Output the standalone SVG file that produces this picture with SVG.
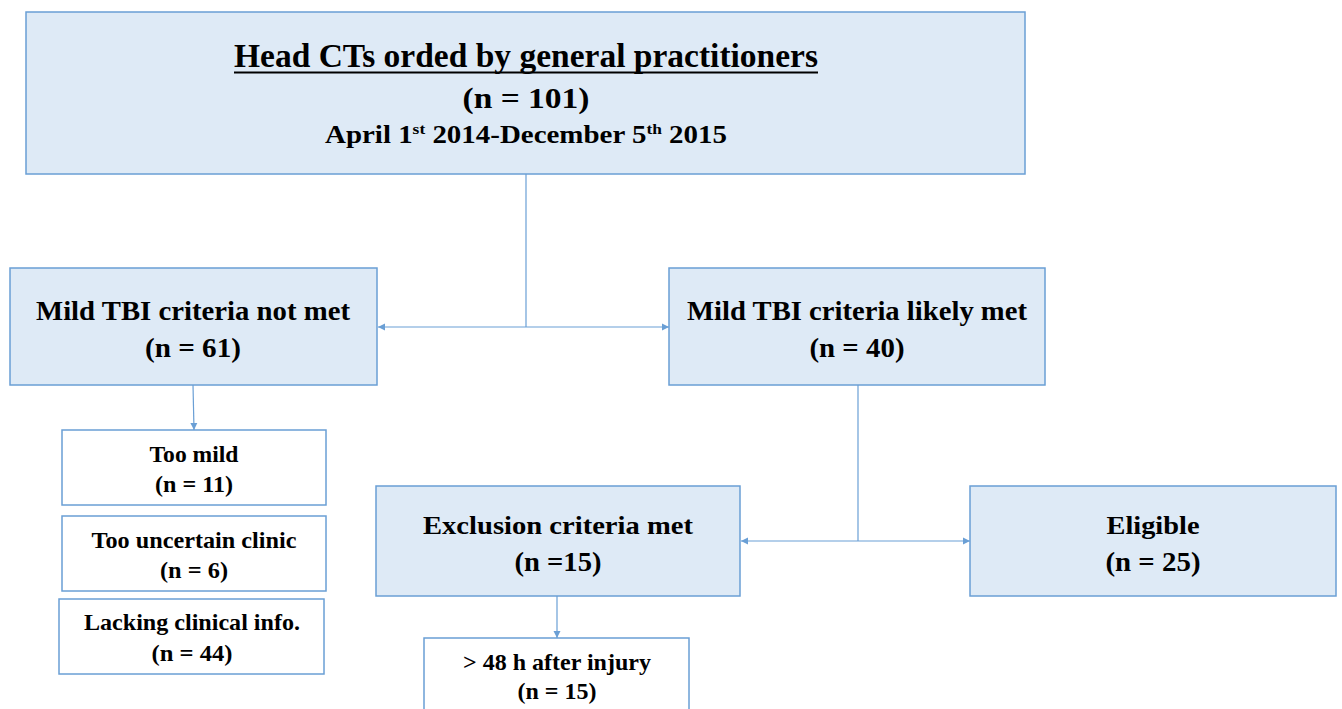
<svg xmlns="http://www.w3.org/2000/svg" width="1342" height="709" viewBox="0 0 1342 709">
<style>
.box{fill:#DEEAF6;stroke:#6A9FD5;stroke-width:1.5}
.wbox{fill:#FFFFFF;stroke:#6A9FD5;stroke-width:1.5}
.t{font-family:"Liberation Serif","Times New Roman",serif;font-weight:bold;fill:#000;text-anchor:middle}
.conn{stroke:#6A9FD5;stroke-width:1.2;fill:none}
</style>
<defs>
<marker id="ah" markerWidth="8" markerHeight="8" refX="7" refY="4" orient="auto" markerUnits="userSpaceOnUse">
<path d="M0,0.5 L7,4 L0,7.5 Z" fill="#6A9FD5"/>
</marker>
</defs>
<rect width="1342" height="709" fill="#FFFFFF"/>
<g id="connectors">
<line class="conn" x1="526" y1="174" x2="526" y2="327"/>
<line class="conn" x1="526" y1="327" x2="378" y2="327" marker-end="url(#ah)"/>
<line class="conn" x1="526" y1="327" x2="669" y2="327" marker-end="url(#ah)"/>
<line class="conn" x1="193" y1="385" x2="194" y2="430" marker-end="url(#ah)"/>
<line class="conn" x1="858" y1="385" x2="858" y2="541"/>
<line class="conn" x1="858" y1="541" x2="741" y2="541" marker-end="url(#ah)"/>
<line class="conn" x1="858" y1="541" x2="970" y2="541" marker-end="url(#ah)"/>
<line class="conn" x1="557" y1="596" x2="557" y2="638" marker-end="url(#ah)"/>
</g>
<g id="top">
<rect class="box" x="26" y="12" width="999" height="162"/>
<text class="t" x="526" y="67" font-size="33" textLength="584" lengthAdjust="spacingAndGlyphs">Head CTs orded by general practitioners</text>
<line x1="234" y1="72.5" x2="818" y2="72.5" stroke="#000" stroke-width="2"/>
<text class="t" x="526" y="108" font-size="30" textLength="127" lengthAdjust="spacingAndGlyphs">(n = 101)</text>
<text class="t" x="526" y="143" font-size="25" textLength="402" lengthAdjust="spacingAndGlyphs">April 1<tspan font-size="15" dy="-9">st</tspan><tspan dy="9"> 2014-December 5</tspan><tspan font-size="15" dy="-9">th</tspan><tspan dy="9"> 2015</tspan></text>
</g>
<g id="notmet">
<rect class="box" x="10" y="268" width="367" height="117"/>
<text class="t" x="193" y="320" font-size="27" textLength="314" lengthAdjust="spacingAndGlyphs">Mild TBI criteria not met</text>
<text class="t" x="193" y="357" font-size="27" textLength="96" lengthAdjust="spacingAndGlyphs">(n = 61)</text>
</g>
<g id="likelymet">
<rect class="box" x="669" y="268" width="376" height="117"/>
<text class="t" x="857" y="320" font-size="27" textLength="340" lengthAdjust="spacingAndGlyphs">Mild TBI criteria likely met</text>
<text class="t" x="857" y="357" font-size="27" textLength="95" lengthAdjust="spacingAndGlyphs">(n = 40)</text>
</g>
<g id="toomild">
<rect class="wbox" x="62" y="430" width="264" height="75"/>
<text class="t" x="194" y="462" font-size="23" textLength="89" lengthAdjust="spacingAndGlyphs">Too mild</text>
<text class="t" x="194" y="492" font-size="23" textLength="78" lengthAdjust="spacingAndGlyphs">(n = 11)</text>
</g>
<g id="uncertain">
<rect class="wbox" x="62" y="516" width="264" height="75"/>
<text class="t" x="194" y="548" font-size="23" textLength="205" lengthAdjust="spacingAndGlyphs">Too uncertain clinic</text>
<text class="t" x="194" y="578" font-size="23" textLength="68" lengthAdjust="spacingAndGlyphs">(n = 6)</text>
</g>
<g id="lacking">
<rect class="wbox" x="59" y="599" width="265" height="75"/>
<text class="t" x="192" y="630" font-size="23" textLength="216" lengthAdjust="spacingAndGlyphs">Lacking clinical info.</text>
<text class="t" x="192" y="661" font-size="23" textLength="81" lengthAdjust="spacingAndGlyphs">(n = 44)</text>
</g>
<g id="exclusion">
<rect class="box" x="376" y="486" width="364" height="110"/>
<text class="t" x="558" y="534" font-size="26" textLength="270" lengthAdjust="spacingAndGlyphs">Exclusion criteria met</text>
<text class="t" x="558" y="571" font-size="27" textLength="87" lengthAdjust="spacingAndGlyphs">(n =15)</text>
</g>
<g id="eligible">
<rect class="box" x="970" y="486" width="366" height="110"/>
<text class="t" x="1153" y="534" font-size="26" textLength="93" lengthAdjust="spacingAndGlyphs">Eligible</text>
<text class="t" x="1153" y="571" font-size="27" textLength="95" lengthAdjust="spacingAndGlyphs">(n = 25)</text>
</g>
<g id="after48">
<rect class="wbox" x="424" y="638" width="265" height="80"/>
<text class="t" x="557" y="670" font-size="23" textLength="188" lengthAdjust="spacingAndGlyphs">&gt; 48 h after injury</text>
<text class="t" x="557" y="699" font-size="23" textLength="79" lengthAdjust="spacingAndGlyphs">(n = 15)</text>
</g>
</svg>
